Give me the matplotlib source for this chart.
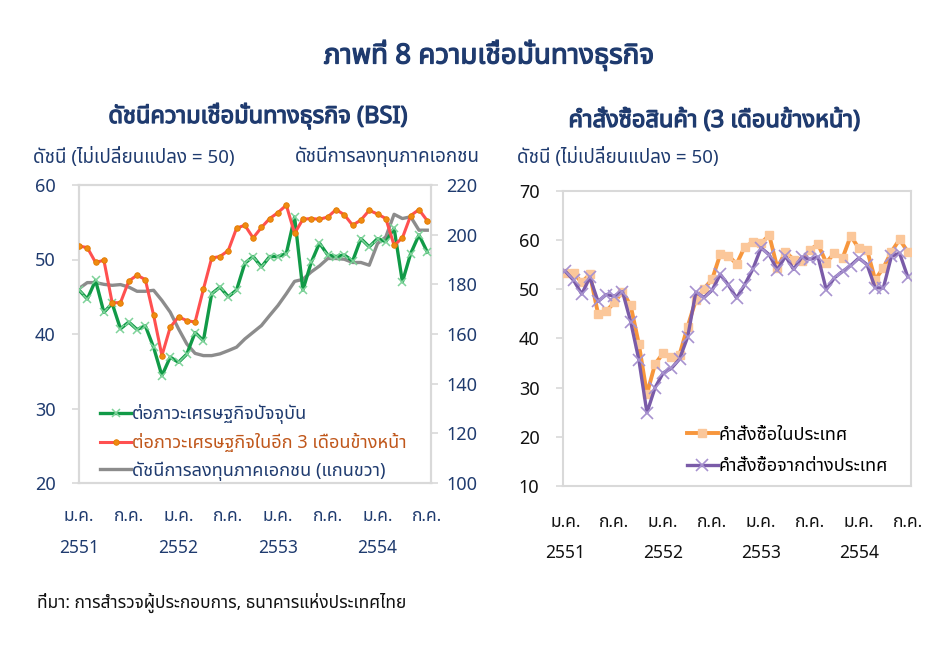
import matplotlib
matplotlib.use("Agg")
import matplotlib.pyplot as plt
from matplotlib import font_manager
from matplotlib.ft2font import FT2Font
import matplotlib.patheffects as pe

# ---------------- data ----------------
n_months = 43  # ม.ค. 2551 – ก.ค. 2554
months = list(range(n_months))
tick_pos = [0, 6, 12, 18, 24, 30, 36, 42]
tick_month = ["ม.ค.", "ก.ค.", "ม.ค.", "ก.ค.", "ม.ค.", "ก.ค.", "ม.ค.", "ก.ค."]
year_pos = [0, 12, 24, 36]
year_lbl = ["2551", "2552", "2553", "2554"]

bsi_current = [45.9, 44.7, 47.2, 42.9, 44.1, 40.7, 41.6, 40.6, 41.1, 38.2, 34.4, 36.9, 36.2, 37.3, 40.2,
               39.1, 45.4, 46.3, 45.0, 45.9, 49.5, 50.4, 49.0, 50.4, 50.4, 50.8, 55.7, 45.9, 49.6,
               52.2, 50.6, 50.4, 50.6, 49.8, 52.8, 51.7, 52.8, 52.4, 54.2, 47.0, 50.8, 53.3, 51.0]
bsi_next3m = [51.8, 51.6, 49.6, 49.9, 44.2, 44.2, 47.1, 47.9, 47.3, 42.5, 37.1, 40.9, 42.3, 41.8, 41.6,
              46.0, 50.2, 50.4, 51.2, 54.2, 54.6, 52.9, 54.3, 55.5, 56.3, 57.3, 53.5, 55.4, 55.5,
              55.4, 55.7, 56.7, 56.0, 54.6, 55.3, 56.6, 56.1, 55.5, 51.9, 52.9, 55.9, 56.7, 55.2]
invest_idx = [178.3, 180.7, 180.7, 180.0, 179.6, 179.9, 178.9, 177.2, 177.2, 177.6, 173.5, 168.8, 162.1,
              156.0, 152.2, 151.3, 151.3, 152.0, 153.3, 154.7, 158.0, 160.7, 163.4, 167.5, 171.5, 176.2,
              181.2, 182.0, 185.0, 187.4, 190.4, 190.4, 190.1, 188.8, 188.8, 187.7, 196.4, 199.1, 208.2,
              206.5, 207.2, 201.8, 201.8]

orders_domestic = [53.2, 53.2, 51.4, 53.0, 45.0, 45.5, 47.3, 49.5, 46.7, 38.9, 28.7, 34.8, 37.0, 36.2, 36.7,
                   42.4, 47.8, 50.1, 52.0, 57.1, 56.8, 55.1, 58.6, 59.5, 59.3, 61.0, 54.3, 57.6, 56.0,
                   55.8, 58.0, 59.1, 55.4, 57.3, 56.3, 60.8, 58.3, 58.0, 51.9, 54.3, 57.6, 60.1, 57.6]
orders_foreign = [53.6, 51.8, 49.0, 52.4, 47.5, 48.9, 48.6, 49.5, 43.4, 35.7, 24.9, 30.0, 33.0, 33.9, 35.8,
                  40.3, 49.4, 48.3, 49.8, 53.0, 50.8, 48.2, 50.9, 54.1, 58.4, 57.0, 53.9, 56.7, 54.0,
                  56.5, 56.1, 56.5, 49.9, 52.3, 53.6, 54.8, 56.3, 55.0, 50.3, 50.2, 56.7, 57.3, 52.5]

title = "ภาพที่ 8 ความเชื่อมั่นทางธุรกิจ"
left_title = "ดัชนีความเชื่อมั่นทางธุรกิจ (BSI)"
right_title = "คำสั่งซื้อสินค้า (3 เดือนข้างหน้า)"
ylabel_left = "ดัชนี (ไม่เปลี่ยนแปลง = 50)"
ylabel_right2 = "ดัชนีการลงทุนภาคเอกชน"
leg_left = ["ต่อภาวะเศรษฐกิจปัจจุบัน", "ต่อภาวะเศรษฐกิจในอีก 3 เดือนข้างหน้า", "ดัชนีการลงทุนภาคเอกชน (แกนขวา)"]
leg_right = ["คำสั่งซื้อในประเทศ", "คำสั่งซื้อจากต่างประเทศ"]
source = "ที่มา: การสำรวจผู้ประกอบการ, ธนาคารแห่งประเทศไทย"


# ---------------- font with Thai glyphs ----------------
def find_thai_family():
    prefs = ['Tahoma', 'Leelawadee UI', 'Noto Sans Thai', 'Noto Sans Thai UI', 'Loma', 'Garuda',
             'Sarabun', 'Waree', 'Umpush', 'Norasi', 'Kinnari', 'Laksaman', 'Noto Looped Thai',
             'Noto Serif Thai']
    cands = {}
    for f in font_manager.fontManager.ttflist:
        try:
            cmap = FT2Font(f.fname).get_charmap()
            if 0x0E01 in cmap and 0x0E40 in cmap and 0x0E48 in cmap:
                cands.setdefault(f.name, f.fname)
        except Exception:
            pass
    for p in prefs:
        if p in cands:
            return p
    return next(iter(cands), None)


thai = find_thai_family()
fams = ([thai] if thai else []) + ['DejaVu Sans']
plt.rcParams['font.family'] = fams

NAVY = '#1F3B6F'
GRID = '#D9D9D9'
BOLD = [pe.withStroke(linewidth=0.9, foreground=NAVY)]

fig = plt.figure(figsize=(9.48, 6.48), dpi=100)
fig.patch.set_facecolor('white')


def px(x, y):
    return x / 948.0, 1 - y / 648.0


# ---------------- left panel ----------------
axL = fig.add_axes([79 / 948, 1 - 483 / 648, (431 - 79) / 948, (483 - 185) / 648])
axR2 = axL.twinx()

l1, = axL.plot(months, bsi_current, color='#119A47', lw=2.4, marker='x', ms=5.5,
               mec='#7FD39A', mew=1.1, zorder=4)
l2, = axL.plot(months, bsi_next3m, color='#FF5050', lw=2.2, marker='o', ms=4,
               mfc='#F08A10', mec='#E07A00', mew=0.6, zorder=5)
l3, = axR2.plot(months, invest_idx, color='#8C8C8C', lw=2.4, zorder=3)
axL.set_zorder(axR2.get_zorder() + 1)
axL.patch.set_visible(False)

axL.set_xlim(0, 42.45)
axL.set_ylim(20, 60)
axR2.set_ylim(100, 220)
axL.set_yticks([20, 30, 40, 50, 60])
axR2.set_yticks([100, 120, 140, 160, 180, 200, 220])
axL.set_xticks([])
for a in (axL, axR2):
    for s in a.spines.values():
        s.set_color(GRID)
        s.set_linewidth(1.5)
axL.tick_params(axis='y', colors=GRID, labelcolor=NAVY, labelsize=13, length=5, width=1.2, pad=12)
axR2.tick_params(axis='y', colors=GRID, labelcolor=NAVY, labelsize=13, length=5, width=1.2, pad=6)

for p, lab in zip(tick_pos, tick_month):
    axL.annotate(lab, xy=(p, 0), xycoords=('data', 'axes fraction'), xytext=(0, -33),
                 textcoords='offset pixels', ha='center', va='center', fontsize=12.5, color=NAVY)
for p, lab in zip(year_pos, year_lbl):
    axL.annotate(lab, xy=(p, 0), xycoords=('data', 'axes fraction'), xytext=(0, -65),
                 textcoords='offset pixels', ha='center', va='center', fontsize=12.5, color=NAVY)

legL = axL.legend([l1, l2, l3], leg_left, loc='lower left', bbox_to_anchor=(0.03, -0.028),
                  frameon=False, fontsize=13, handlelength=1.7, handletextpad=0.05,
                  labelspacing=0.5, borderaxespad=0.2, markerscale=1.0)
for t, c in zip(legL.get_texts(), [NAVY, '#C0571B', NAVY]):
    t.set_color(c)

# ---------------- right panel ----------------
axO = fig.add_axes([563 / 948, 1 - 486 / 648, (911 - 563) / 948, (486 - 190.7) / 648])
o1, = axO.plot(months, orders_domestic, color='#F7963C', lw=2.8, marker='s', ms=6,
               mfc='#FBC79A', mec='#FBC79A', zorder=3)
o2, = axO.plot(months, orders_foreign, color='#7A5BA8', lw=2.4, marker='x', ms=8,
               mec='#A792CF', mew=1.2, zorder=4)
axO.set_xlim(-0.3, 42.4)
axO.set_ylim(10, 70)
axO.set_yticks([10, 20, 30, 40, 50, 60, 70])
axO.set_xticks([])
for s in axO.spines.values():
    s.set_color(GRID)
    s.set_linewidth(1.5)
axO.tick_params(axis='y', colors=GRID, labelcolor='#111111', labelsize=13, length=5, width=1.2, pad=12)
for p, lab in zip(tick_pos, tick_month):
    axO.annotate(lab, xy=(p, 0), xycoords=('data', 'axes fraction'), xytext=(0, -36),
                 textcoords='offset pixels', ha='center', va='center', fontsize=12.5, color='#111111')
for p, lab in zip(year_pos, year_lbl):
    axO.annotate(lab, xy=(p, 0), xycoords=('data', 'axes fraction'), xytext=(0, -67),
                 textcoords='offset pixels', ha='center', va='center', fontsize=12.5, color='#111111')
legR = axO.legend([o1, o2], leg_right, loc='lower left', bbox_to_anchor=(0.325, 0.0),
                  frameon=False, fontsize=13, handlelength=1.7, handletextpad=0.05,
                  labelspacing=0.75, borderaxespad=0.2)

# ---------------- texts ----------------
fig.text(*px(489, 55), title, ha='center', va='center', fontsize=20, color=NAVY, path_effects=BOLD)
fig.text(*px(258, 116), left_title, ha='center', va='center', fontsize=17, color=NAVY, path_effects=BOLD)
fig.text(*px(714, 121), right_title, ha='center', va='center', fontsize=17, color=NAVY, path_effects=BOLD)
fig.text(*px(33, 157), ylabel_left, ha='left', va='center', fontsize=13.5, color=NAVY)
fig.text(*px(480, 157), ylabel_right2, ha='right', va='center', fontsize=13.5, color=NAVY)
fig.text(*px(517, 157), ylabel_left, ha='left', va='center', fontsize=13.5, color=NAVY)
fig.text(*px(37, 603), source, ha='left', va='center', fontsize=12.5, color='#111111')

fig.savefig('out.png', dpi=100, facecolor='white')
